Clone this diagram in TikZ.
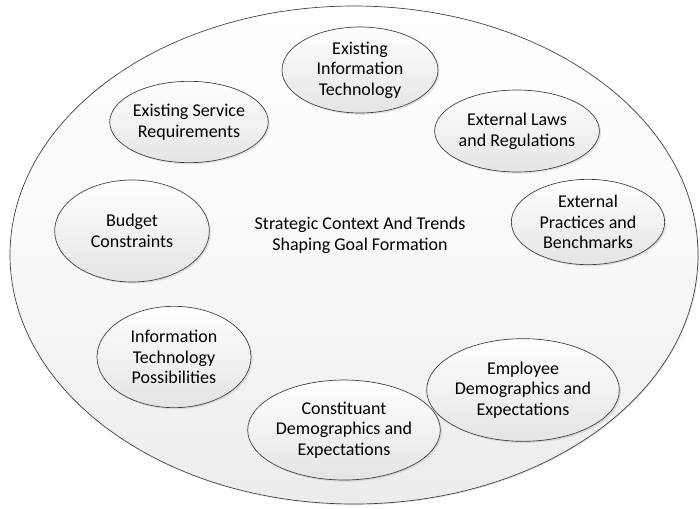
\documentclass[tikz,border=0pt]{standalone}
\usepackage{fontspec}
\setmainfont{Carlito}
\usetikzlibrary{shapes.geometric,shadows}
\definecolor{RimGray}{RGB}{60,60,60}
\definecolor{FadeGray}{RGB}{228,228,228}
\definecolor{BackGray}{RGB}{236,236,236}
\tikzset{
  trend/.style={ellipse,draw=RimGray,line width=0.5pt,top color=white,bottom color=FadeGray,
    align=center,inner sep=0pt,font=\fontsize{13.5}{15.5}\selectfont,
    drop shadow={shadow xshift=1.2pt,shadow yshift=-1.2pt,opacity=0.2}},
  context/.style={ellipse,draw=RimGray,line width=0.5pt,top color=white,bottom color=BackGray,
    middle color=gray!5,inner sep=0pt,
    drop shadow={shadow xshift=0.8pt,shadow yshift=-0.8pt,opacity=0.2}},
}

\begin{document}
\begin{tikzpicture}[x=0.75pt,y=-0.75pt]
  \useasboundingbox (0,0) rectangle (700,508);
  % outer context
  \node[context,minimum width=516pt,minimum height=373.5pt] (ctx) at (354,255) {};
  \node[align=center,font=\fontsize{13.5}{15.5}\selectfont] (title) at (360,235)
    {Strategic Context And Trends\\Shaping Goal Formation};

  % trends around it
  \node[trend,minimum width=117pt,minimum height=64.5pt] (exit) at (360,70)
    {Existing\\Information\\Technology};
  \node[trend,minimum width=116pt,minimum height=61pt] (service) at (189,122)
    {Existing Service\\Requirements};
  \node[trend,minimum width=117pt,minimum height=61.5pt] (laws) at (517,131)
    {External Laws\\and Regulations};
  \node[trend,minimum width=115pt,minimum height=64pt] (practice) at (588,222)
    {External\\Practices and\\Benchmarks};
  \node[trend,minimum width=116pt,minimum height=76.5pt] (budget) at (132,231)
    {Budget\\Constraints};
  \node[trend,minimum width=115.5pt,minimum height=76pt] (itposs) at (174,357)
    {Information\\Technology\\Possibilities};
  \node[trend,minimum width=129pt,minimum height=75pt] (constit) at (344,430)
    {Constituant\\Demographics and\\Expectations};
  \node[trend,minimum width=130pt,minimum height=77pt] (employee) at (523,390)
    {Employee\\Demographics and\\Expectations};
\end{tikzpicture}
\end{document}
